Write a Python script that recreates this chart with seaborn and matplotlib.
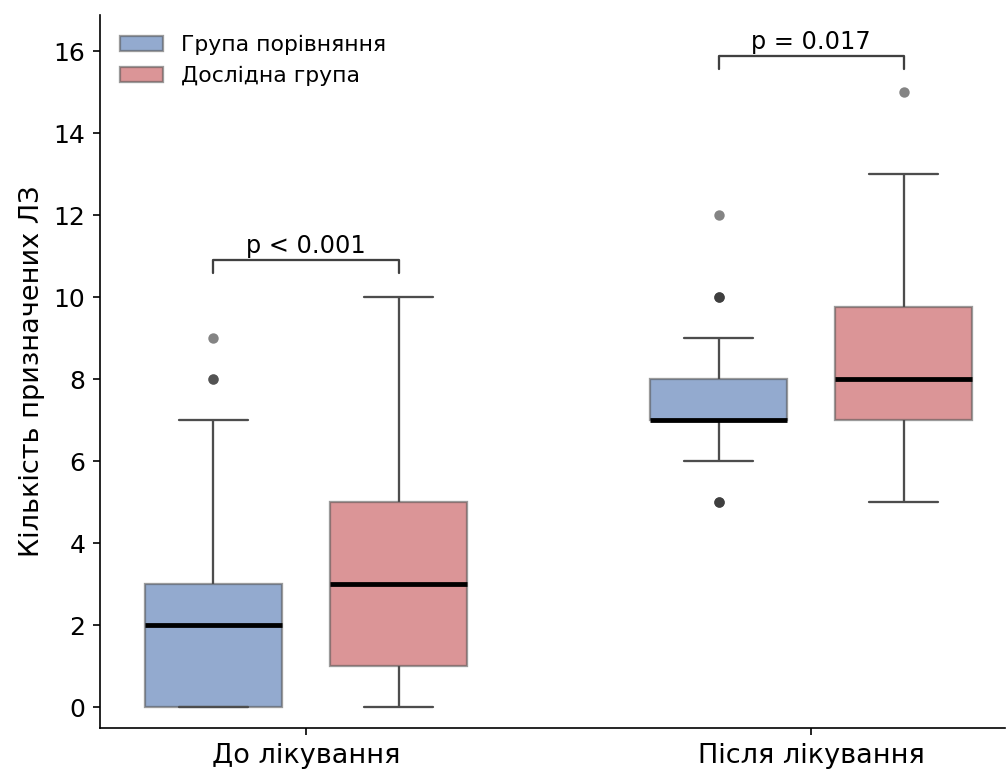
import pandas as pd
import matplotlib.pyplot as plt
import seaborn as sns

# Категорії та групи
periods = ["До лікування", "Після лікування"]
groups = ["Група порівняння", "Дослідна група"]

# Кількість призначених ЛЗ на пацієнта (відновлено з графіка)
before_control = [0, 0, 0, 0, 0, 0, 1, 1, 1, 2, 2, 2, 2, 3, 3, 3, 4, 7, 8, 8, 9]
before_study = [0, 1, 1, 1, 1, 1, 2, 2, 3, 3, 3, 3, 4, 4, 5, 5, 6, 7, 8, 9, 10]
after_control = [5, 5, 5, 6, 6, 7, 7, 7, 7, 7, 7, 7, 7, 7, 7, 8, 8, 8, 8, 9, 9,
                 10, 10, 10, 12]
after_study = [5, 6, 6, 7, 7, 7, 7, 8, 8, 8, 8, 8, 9, 9, 9, 9, 10, 10, 11, 12,
               13, 15]

p_labels = ["p < 0.001", "p = 0.017"]
bracket_y = [10.9, 15.88]

rows = []
for period, grp, values in [
    (periods[0], groups[0], before_control),
    (periods[0], groups[1], before_study),
    (periods[1], groups[0], after_control),
    (periods[1], groups[1], after_study),
]:
    for v in values:
        rows.append({"period": period, "group": grp, "count": v})
df = pd.DataFrame(rows)

sns.set_style("ticks", {"axes.edgecolor": "black", "text.color": "black",
                        "xtick.color": "black", "ytick.color": "black",
                        "axes.labelcolor": "black"})
plt.rcParams['font.family'] = ['DejaVu Sans']

fig, ax = plt.subplots(figsize=(1007 / 150, 770 / 150), dpi=150)
fig.subplots_adjust(left=0.0993, right=0.998, bottom=0.0545, top=0.9805)

width = 0.733
sns.boxplot(
    data=df, x="period", y="count", hue="group",
    order=periods, hue_order=groups,
    palette=["#4c72b0", "#c44e52"], saturation=1,
    width=width, gap=0.26, linecolor="0.3", linewidth=1.1,
    boxprops=dict(alpha=0.6, edgecolor="0.35"),
    medianprops=dict(color="black", linewidth=2.3),
    flierprops=dict(marker="o", markerfacecolor="0.2", markeredgecolor="none",
                    markersize=5, alpha=0.6),
    ax=ax,
)

# Дужки з p-значеннями
off = width / 4
for i, (lab, y) in enumerate(zip(p_labels, bracket_y)):
    ax.plot([i - off, i - off, i + off, i + off], [y - 0.32, y, y, y - 0.32],
            color="0.25", lw=1.1)
    ax.text(i, y + 0.06, lab, ha="center", va="bottom", fontsize=11.5)

ax.set_xlim(-0.408, 1.384)
ax.set_ylim(-0.51, 16.88)
ax.set_yticks(range(0, 17, 2))
ax.set_xlabel("")
ax.set_ylabel("Кількість призначених ЛЗ", fontsize=13)
ax.tick_params(axis="y", labelsize=12)
ax.tick_params(axis="x", labelsize=13)
sns.despine(ax=ax)

leg = ax.legend(loc="upper left", frameon=False, fontsize=10.5)
for h in leg.legend_handles:
    h.set_alpha(0.6)
    h.set_edgecolor("0.35")

plt.savefig("out.png", dpi=150)
